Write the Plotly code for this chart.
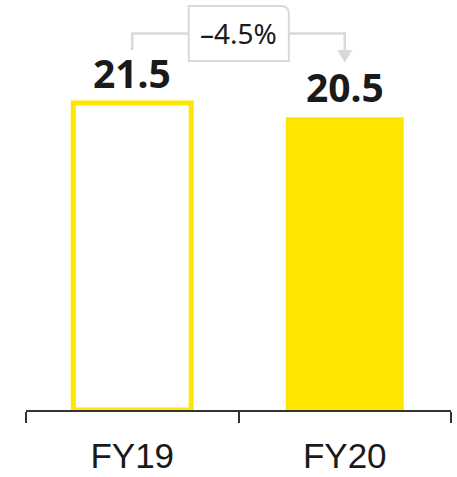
import plotly.graph_objects as go

# Data
categories = ["FY19", "FY20"]
values = [21.5, 20.5]
value_labels = ["21.5", "20.5"]
change_label = "\u20134.5%"

YELLOW = "#FFE600"
GREY = "#D9D9D9"
TEXT = "#1A1A1A"

fig = go.Figure()
fig.add_trace(go.Bar(
    x=categories,
    y=values,
    width=0.555,
    marker=dict(
        color=["white", YELLOW],
        line=dict(color=YELLOW, width=[5, 0]),
    ),
    cliponaxis=False,
    hoverinfo="skip",
))

# value labels
for c, v, t in zip(categories, values, value_labels):
    fig.add_annotation(
        x=c, y=v, text=f"<b>{t}</b>", showarrow=False,
        yanchor="bottom", yshift=2,
        font=dict(family="Noto Sans", size=39, color=TEXT),
    )

# change connector (decorative), positioned relative to data
top = max(values)
y_line = top * 1.2265
y_start = top * 1.1725
y_arrow_base = top * 1.1725
y_arrow_tip = top * 1.131
box_x0, box_x1 = 0.266, 0.737
box_y0, box_y1 = top * 1.137, top * 1.316
rx, ry = 0.038, 0.56

line_style = dict(color=GREY, width=2.5)
fig.add_shape(type="path", xref="x", yref="y",
              path=f"M 0,{y_start} L 0,{y_line} L {box_x0},{y_line}",
              line=line_style)
fig.add_shape(type="path", xref="x", yref="y",
              path=f"M {box_x1},{y_line} L 1,{y_line} L 1,{y_arrow_base}",
              line=line_style)
fig.add_shape(type="path", xref="x", yref="y",
              path=f"M 0.965,{y_arrow_base} L 1.035,{y_arrow_base} L 1,{y_arrow_tip} Z",
              line=dict(color=GREY, width=0), fillcolor=GREY)
fig.add_shape(type="path", xref="x", yref="y",
              path=(f"M {box_x0},{box_y0} L {box_x0},{box_y1} L {box_x1 - rx},{box_y1} "
                    f"Q {box_x1},{box_y1} {box_x1},{box_y1 - ry} L {box_x1},{box_y0} Z"),
              line=dict(color=GREY, width=2), fillcolor="white")
fig.add_annotation(
    x=0.5, y=(box_y0 + box_y1) / 2, xref="x", yref="y",
    text=change_label, showarrow=False,
    font=dict(family="Noto Sans", size=28, color=TEXT),
)

fig.update_layout(
    template="none",
    width=457, height=477,
    margin=dict(l=26, r=6, t=3, b=67, pad=0),
    paper_bgcolor="white", plot_bgcolor="white",
    showlegend=False,
    font=dict(family="Noto Sans", color=TEXT),
    xaxis=dict(
        type="category",
        range=[-0.5, 1.5],
        automargin=False,
        showline=True, linecolor="#333333", linewidth=2,
        ticks="outside", tickson="boundaries", ticklen=11, tickwidth=2, tickcolor="#333333",
        tickfont=dict(family="Liberation Sans", size=35, color=TEXT),
        ticklabelstandoff=14,
        showgrid=False, zeroline=False, fixedrange=True,
    ),
    yaxis=dict(
        range=[0, 28.5], visible=False, automargin=False,
        showgrid=False, zeroline=False, fixedrange=True,
    ),
)

fig.write_html(
    "out.html",
    config={"displayModeBar": False},
    post_script="document.body.style.margin='0';document.body.style.overflow='hidden';",
)
